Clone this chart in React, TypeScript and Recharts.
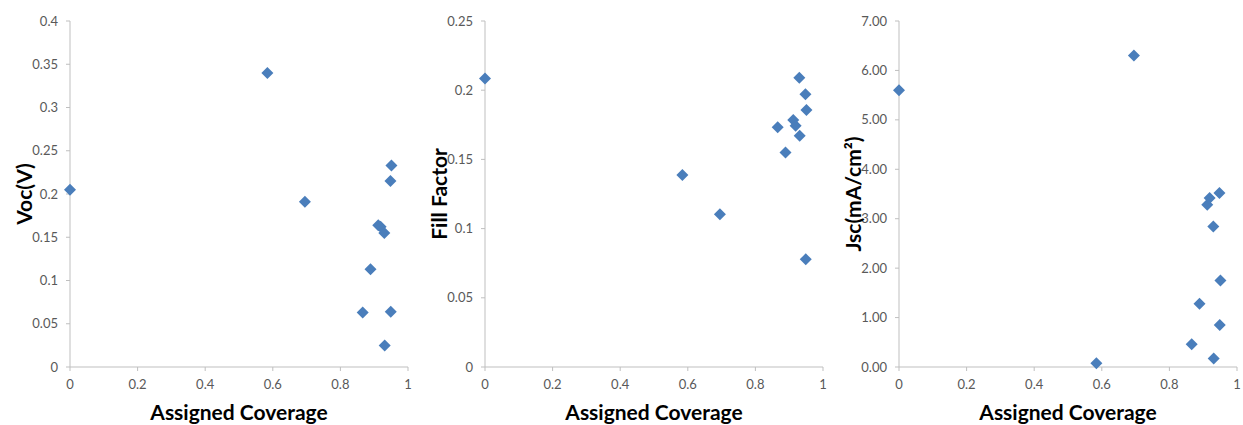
import { ScatterChart, Scatter, XAxis, YAxis, Label } from 'recharts';

// shared x values (assigned coverage), one per device
const coverage = [0, 0.584, 0.695, 0.866, 0.889, 0.912, 0.919, 0.93, 0.931, 0.948, 0.949, 0.951];

const voc = [0.205, 0.34, 0.191, 0.063, 0.113, 0.164, 0.162, 0.155, 0.025, 0.215, 0.064, 0.233];
const fillFactor = [0.2085, 0.1387, 0.1103, 0.1732, 0.1549, 0.1785, 0.1744, 0.209, 0.1671, 0.197, 0.0778, 0.1857];
const jsc = [5.6, 0.075, 6.3, 0.46, 1.28, 3.28, 3.42, 2.84, 0.17, 3.52, 0.85, 1.75];

const xTicks = [0, 0.2, 0.4, 0.6, 0.8, 1];
const vocTicks = [0, 0.05, 0.1, 0.15, 0.2, 0.25, 0.3, 0.35, 0.4];
const ffTicks = [0, 0.05, 0.1, 0.15, 0.2, 0.25];
const jscTicks = [0, 1, 2, 3, 4, 5, 6, 7];

const FONT = 'Lato, "Open Sans", sans-serif';
const AXIS = '#bfbfbf';
const TEXT = '#595959';
const MARKER = '#4a7ebb';

// square diamond like excel's marker
const Diamond = (props: any) => {
  const { cx, cy } = props;
  const r = 6;
  return <path d={`M${cx},${cy - r}L${cx + r},${cy}L${cx},${cy + r}L${cx - r},${cy}Z`} fill={MARKER} />;
};

function Panel({
  values,
  ticks,
  max,
  label,
  fmt,
}: {
  values: number[];
  ticks: number[];
  max: number;
  label: string;
  fmt: (v: number) => string;
}) {
  const data = coverage.map((x, i) => ({ x, y: values[i] }));
  const tickStyle = { fontSize: 13, fill: TEXT, fontFamily: FONT };
  return (
    <ScatterChart width={414} height={425} margin={{ top: 21, right: 6, bottom: 0, left: 0 }}>
      <XAxis
        type="number"
        dataKey="x"
        domain={[0, 1]}
        ticks={xTicks}
        tickFormatter={(v) => String(v)}
        stroke={AXIS}
        tickSize={4}
        tickMargin={9}
        height={58}
        tick={tickStyle}
      >
        <Label
          value="Assigned Coverage"
          position="insideBottom"
          offset={5}
          style={{ fontSize: 21, fontWeight: 700, fill: '#000', fontFamily: FONT }}
        />
      </XAxis>
      <YAxis
        type="number"
        dataKey="y"
        domain={[0, max]}
        ticks={ticks}
        tickFormatter={fmt}
        stroke={AXIS}
        tickSize={4}
        tickMargin={8}
        width={70}
        tick={tickStyle}
      >
        <Label
          value={label}
          angle={-90}
          position="insideLeft"
          offset={25}
          style={{ fontSize: 21, fontWeight: 700, fill: '#000', fontFamily: FONT, textAnchor: 'middle' }}
        />
      </YAxis>
      <Scatter data={data} shape={<Diamond />} isAnimationActive={false} />
    </ScatterChart>
  );
}

export default function App() {
  return (
    <div style={{ position: 'absolute', left: 0, top: 0, width: 1243, height: 425, background: '#fff' }}>
      <div style={{ position: 'absolute', left: 0, top: 0 }}>
        <Panel values={voc} ticks={vocTicks} max={0.4} label="Voc(V)" fmt={(v) => String(v)} />
      </div>
      <div style={{ position: 'absolute', left: 415, top: 0 }}>
        <Panel values={fillFactor} ticks={ffTicks} max={0.25} label="Fill Factor" fmt={(v) => String(v)} />
      </div>
      <div style={{ position: 'absolute', left: 829, top: 0 }}>
        <Panel values={jsc} ticks={jscTicks} max={7} label="Jsc(mA/cm²)" fmt={(v) => v.toFixed(2)} />
      </div>
    </div>
  );
}
